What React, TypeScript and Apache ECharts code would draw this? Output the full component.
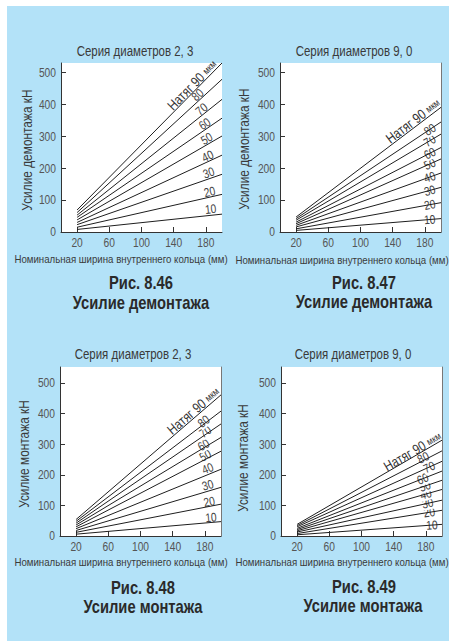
import React, { useEffect, useRef } from "react";
import * as echarts from "echarts";

// ---- data ----
const interference = [10, 20, 30, 40, 50, 60, 70, 80, 90];
const xStart = 20;
const xEnd = 200;
const xTicks = [20, 60, 100, 140, 180];
const yTicks = [0, 100, 200, 300, 400, 500];

// Рис. 8.46 — демонтаж, серия 2, 3 (кН at 20 mm and 200 mm)
const dismount23Start = [8, 15, 23, 30, 38, 46, 53, 61, 69];
const dismount23End = [56, 118, 181, 241, 301, 357, 416, 479, 530];
// Рис. 8.47 — демонтаж, серия 9, 0
const dismount90Start = [5, 10, 16, 21, 26, 31, 37, 42, 47];
const dismount90End = [42, 92, 140, 185, 229, 265, 307, 345, 391];
// Рис. 8.48 — монтаж, серия 2, 3
const mount23Start = [6, 12, 18, 24, 30, 36, 42, 48, 54];
const mount23End = [47, 104, 159, 218, 277, 322, 366, 408, 461];
// Рис. 8.49 — монтаж, серия 9, 0
const mount90Start = [4, 8, 13, 17, 21, 25, 30, 34, 38];
const mount90End = [38, 84, 117, 152, 182, 212, 244, 278, 313];

const seriesTitles = ["Серия диаметров 2, 3", "Серия диаметров 9, 0", "Серия диаметров 2, 3", "Серия диаметров 9, 0"];
const figNumbers = ["Рис. 8.46", "Рис. 8.47", "Рис. 8.48", "Рис. 8.49"];
const figTitles = ["Усилие демонтажа", "Усилие демонтажа", "Усилие монтажа", "Усилие монтажа"];
const yNames = ["Усилие демонтажа кН", "Усилие демонтажа кН", "Усилие монтажа кН", "Усилие монтажа кН"];
const xName = "Номинальная ширина внутреннего кольца (мм)";
const topLabelWord = "Натяг";
const unitWord = "мкм";

// ---- layout / style ----
const FONT = "'Liberation Sans', Arial, Helvetica, sans-serif";
const NARROW = 0.82; // horizontal squeeze to imitate a condensed face
const LINE = "#1e1e1e";
const TXT = "#3a3a3a";

const panels = [
  {
    start: dismount23Start, end: dismount23End, yMax: 530,
    grid: { left: 61, top: 63, width: 161, height: 169 }, border: false,
    title: [135, 51], yName: [27, 150], xName: [121, 259], fig: [141, 282], fig2: [141, 302],
    numX: [185.9, 184.6, 183.4, 182.1, 180.9, 178.4, 174.6, 169.6],
    numDv: [6.4, 5.5, 6.2, 5.8, 6.4, 6.3, 6.5, 7], numBg: [0, 0, 0, 0, 0, 0, 0, 0],
    topX: 163, topDv: 8.3,
  },
  {
    start: dismount90Start, end: dismount90End, yMax: 530,
    grid: { left: 280, top: 63, width: 161, height: 169 }, border: true,
    title: [354, 51], yName: [244, 149], xName: [342, 260], fig: [364, 282], fig2: [364, 301],
    numX: [186, 186, 186, 186, 186, 186, 186, 186],
    numDv: [0, 0, 0, 0, 0, 0, 0, 0], numBg: [1, 1, 1, 1, 1, 1, 1, 1],
    topX: 165.3, topDv: 7.7,
  },
  {
    start: mount23Start, end: mount23End, yMax: 552,
    grid: { left: 60, top: 367, width: 161, height: 169 }, border: true,
    title: [133, 354], yName: [24, 454], xName: [121, 562], fig: [143, 587], fig2: [143, 606],
    numX: [187.5, 185.4, 183.4, 183.4, 180.4, 178.4, 180.4, 178.4],
    numDv: [5.2, 4.8, 6.3, 6.4, 4, 3, 3, 3], numBg: [0, 0, 0, 0, 1, 1, 1, 1],
    topX: 165.6, topDv: 8,
  },
  {
    start: mount90Start, end: mount90End, yMax: 552,
    grid: { left: 281, top: 367, width: 161, height: 169 }, border: true,
    title: [353, 354], yName: [243, 458], xName: [342, 562], fig: [364, 586], fig2: [363, 605],
    numX: [187.5, 184.1, 182.1, 180, 178.8, 175.9, 184.1, 176.6],
    numDv: [0, 0, 0, 0, 0, 0, 0, 3], numBg: [1, 1, 1, 1, 1, 1, 1, 1],
    topX: 163.4, topDv: 6,
  },
];

const txt = (text: string, x: number, y: number, style: any, extra: any = {}) => ({
  type: "text", x, y, scaleX: NARROW, silent: true, ...extra,
  style: { text, align: "center", verticalAlign: "middle", fill: TXT, fontFamily: FONT, ...style },
});

function buildOption() {
  const grid: any[] = [];
  const xAxis: any[] = [];
  const yAxis: any[] = [];
  const series: any[] = [];
  const graphic: any[] = [];
  const yIndexOf: number[] = [];

  panels.forEach((p, i) => {
    grid.push({ ...p.grid, show: true, backgroundColor: "#ffffff", borderWidth: 0 });
    xAxis.push({
      type: "value", gridIndex: i, min: 0, max: 200,
      axisLine: { show: true, onZero: false, lineStyle: { color: "#333", width: 1 } },
      axisTick: { show: true, inside: true, length: 5, customValues: xTicks, lineStyle: { color: "#333" } },
      axisLabel: { show: false },
      splitLine: { show: false },
    });
    yIndexOf.push(yAxis.length);
    yAxis.push({
      type: "value", gridIndex: i, min: 0, max: p.yMax,
      axisLine: { show: true, lineStyle: { color: "#333", width: 1 } },
      axisTick: { show: true, inside: true, length: 5, customValues: yTicks.slice(1), lineStyle: { color: "#333" } },
      axisLabel: { show: false },
      splitLine: { show: false },
    });
    if (p.border) {
      yAxis.push({
        type: "value", gridIndex: i, min: 0, max: p.yMax, position: "right",
        axisLine: { show: true, lineStyle: { color: "#777", width: 1 } },
        axisTick: { show: false }, axisLabel: { show: false }, splitLine: { show: false },
      });
    }
    interference.forEach((v, k) => {
      series.push({
        type: "line", name: `${i}-${v}`, xAxisIndex: i, yAxisIndex: yIndexOf[i],
        data: [[xStart, p.start[k]], [xEnd, p.end[k]]],
        showSymbol: false, symbol: "none", silent: true,
        lineStyle: { color: LINE, width: 1 },
      });
    });

    graphic.push(txt(seriesTitles[i], p.title[0], p.title[1], { fontSize: 14 }));
    graphic.push(txt(xName, p.xName[0], p.xName[1], { fontSize: 11.8 }));
    graphic.push(txt(yNames[i], p.yName[0], p.yName[1], { fontSize: 14.5 }, { rotation: Math.PI / 2 }));
    graphic.push(txt(figNumbers[i], p.fig[0], p.fig[1], { fontSize: 18, fontWeight: "bold", fill: "#2a2a2a" }));
    graphic.push(txt(figTitles[i], p.fig2[0], p.fig2[1], { fontSize: 18, fontWeight: "bold", fill: "#2a2a2a" }));
  });

  return { grid, xAxis, yAxis, series, graphic };
}

export default function App() {
  const ref = useRef<HTMLDivElement>(null);
  useEffect(() => {
    if (!ref.current) return;
    const chart = echarts.init(ref.current, null, { renderer: "svg" });
    const { grid, xAxis, yAxis, series, graphic } = buildOption();
    chart.setOption({ animation: false, grid, xAxis, yAxis, series, graphic });

    const extra: any[] = [];
    panels.forEach((p, i) => {
      // tick labels through the axes' scales
      xTicks.forEach((v) => {
        const q = chart.convertToPixel({ gridIndex: i }, [v, 0]) as number[];
        extra.push(txt(String(v), q[0], q[1] + 4, { fontSize: 12.5, fill: "#555", verticalAlign: "top" }));
      });
      yTicks.forEach((v) => {
        const q = chart.convertToPixel({ gridIndex: i }, [0, v]) as number[];
        extra.push(txt(String(v), q[0] - 5, q[1], { fontSize: 12.5, fill: "#555", align: "right" }));
      });
      // curve labels placed along the lines
      interference.forEach((v, k) => {
        const a = chart.convertToPixel({ gridIndex: i }, [xStart, p.start[k]]) as number[];
        const b = chart.convertToPixel({ gridIndex: i }, [xEnd, p.end[k]]) as number[];
        const ang = Math.atan2(a[1] - b[1], b[0] - a[0]);
        const isTop = k === interference.length - 1;
        const lx = isTop ? p.topX : p.numX[k];
        const dv = isTop ? p.topDv : p.numDv[k];
        const px = chart.convertToPixel({ gridIndex: i }, [lx, 0]) as number[];
        const tt = (px[0] - a[0]) / (b[0] - a[0]);
        const ly = a[1] + (b[1] - a[1]) * tt;
        const cx = px[0];
        const cy = ly - dv;
        if (isTop) {
          extra.push({
            type: "text", x: cx, y: cy, rotation: ang, scaleX: NARROW, silent: true,
            style: {
              text: `{a|${topLabelWord} ${v} }{b|${unitWord}}`,
              align: "center", verticalAlign: "middle",
              rich: {
                a: { fontSize: 14, fontFamily: FONT, fill: "#333" },
                b: { fontSize: 10, fontFamily: FONT, fill: "#333" },
              },
            },
          });
        } else {
          const bg = p.numBg[k] ? { backgroundColor: "#ffffff", padding: [0, 1, 0, 1] } : {};
          extra.push({
            type: "text", x: cx, y: cy, rotation: ang, scaleX: NARROW, silent: true,
            style: {
              text: String(v), align: "center", verticalAlign: "middle",
              fontSize: 12.5, fontFamily: FONT, fill: "#444", ...bg,
            },
          });
        }
      });
    });
    chart.setOption({ graphic: [...graphic, ...extra] });
    return () => chart.dispose();
  }, []);

  return (
    <div style={{ position: "fixed", left: 0, top: 0, width: 449, height: 641, background: "#ffffff" }}>
      <div style={{ position: "absolute", left: 7, top: 6, width: 442, height: 635, background: "#b3e2f8" }} />
      <div ref={ref} style={{ position: "absolute", left: 0, top: 0, width: 449, height: 641 }} />
    </div>
  );
}
